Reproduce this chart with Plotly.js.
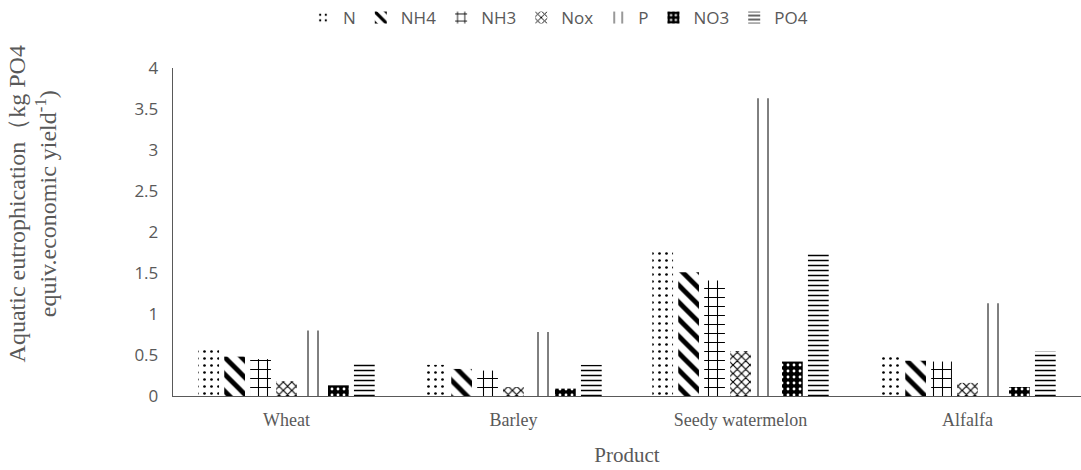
<!DOCTYPE html>
<html>
<head>
<meta charset="utf-8">
<script src="https://cdn.plot.ly/plotly-3.0.1.min.js"></script>
<style>html,body{margin:0;padding:0;background:#fff;}#chart{width:1081px;height:470px;}</style>
</head>
<body>
<div id="chart"></div>
<script>
const categories = ["Wheat", "Barley", "Seedy watermelon", "Alfalfa"];
const seriesNames = ["N", "NH4", "NH3", "Nox", "P", "NO3", "PO4"];
const N   = [0.58, 0.38, 1.80, 0.50];
const NH4 = [0.48, 0.33, 1.51, 0.43];
const NH3 = [0.45, 0.31, 1.41, 0.42];
const Nox = [0.18, 0.11, 0.55, 0.16];
const P   = [0.80, 0.78, 3.63, 1.13];
const NO3 = [0.13, 0.09, 0.42, 0.11];
const PO4 = [0.39, 0.38, 1.75, 0.55];
const yTicks = [0, 0.5, 1, 1.5, 2, 2.5, 3, 3.5, 4];
const yTickLabels = ["0", "0.5", "1", "1.5", "2", "2.5", "3", "3.5", "4"];

const values = [N, NH4, NH3, Nox, P, NO3, PO4];
const patterns = [
  {shape: ".", size: 7, solidity: 0.12, fgcolor: "#000", bgcolor: "#fff"},
  {shape: "\\", size: 12, solidity: 0.4, fgcolor: "#000", bgcolor: "#fff"},
  {shape: "+", size: 9, solidity: 0.22, fgcolor: "#000", bgcolor: "#fff"},
  {shape: "x", size: 6, solidity: 0.35, fgcolor: "#000", bgcolor: "#fff"},
  {shape: "|", size: 10, solidity: 0.1, fgcolor: "#000", bgcolor: "#fff"},
  {shape: ".", size: 6, solidity: 0.18, fgcolor: "#fff", bgcolor: "#000"},
  {shape: "-", size: 5, solidity: 0.3, fgcolor: "#000", bgcolor: "#fff"}
];

const traces = seriesNames.map((name, i) => ({
  type: "bar",
  name: name,
  x: categories,
  y: values[i],
  marker: {
    color: "#fff",
    line: {width: 0},
    pattern: Object.assign({fillmode: "replace"}, patterns[i])
  }
}));

const layout = {
  width: 1081,
  height: 470,
  margin: {l: 173, r: 0, t: 68, b: 74},
  paper_bgcolor: "#fff",
  plot_bgcolor: "#fff",
  barmode: "group",
  bargap: 0.2,
  bargroupgap: 0.2,
  showlegend: true,
  legend: {
    orientation: "h",
    x: 0.424, xref: "paper", xanchor: "center",
    y: 1.0, yref: "container", yanchor: "top",
    font: {family: "Open Sans, sans-serif", size: 17, color: "#595959"},
    itemwidth: 30,
    traceorder: "normal"
  },
  xaxis: {
    type: "category",
    showline: true,
    linecolor: "#595959",
    linewidth: 1.3,
    ticks: "",
    showgrid: false,
    zeroline: false,
    tickfont: {family: "Liberation Serif, Times New Roman, serif", size: 18, color: "#595959"},
    ticklabelstandoff: 7,
    title: {text: "Product", font: {family: "Liberation Serif, Times New Roman, serif", size: 21, color: "#595959"}, standoff: 18}
  },
  yaxis: {
    range: [0, 4],
    tickvals: yTicks,
    ticktext: yTickLabels,
    showline: true,
    linecolor: "#595959",
    linewidth: 1.3,
    ticks: "",
    showgrid: false,
    zeroline: false,
    tickfont: {family: "Open Sans, sans-serif", size: 17, color: "#595959"},
    ticklabelstandoff: 10
  },
  annotations: [{
    text: "Aquatic eutrophication（kg PO4<br>equiv.economic yield<sup>-1</sup>)",
    textangle: -90,
    xref: "paper", yref: "paper",
    x: -0.155, y: 0.585,
    xanchor: "center", yanchor: "middle",
    showarrow: false,
    font: {family: "Liberation Serif, Times New Roman, serif", size: 24, color: "#595959"}
  }]
};

Plotly.newPlot("chart", traces, layout, {displayModeBar: false, staticPlot: true});
</script>
</body>
</html>
